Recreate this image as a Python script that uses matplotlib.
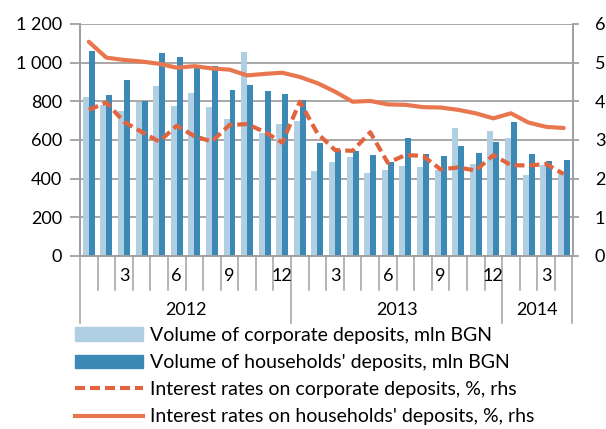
import matplotlib
matplotlib.use("Agg")
import matplotlib.pyplot as plt
from matplotlib.patches import Patch
from matplotlib.lines import Line2D
import numpy as np

plt.rcParams["font.family"] = ["Lato", "DejaVu Sans"]

# ---------- data (Jan 2012 - Apr 2014, monthly) ----------
years = ["2012", "2013", "2014"]
year_months = [12, 12, 4]
month_labels = ["", "", "3", "", "", "6", "", "", "9", "", "", "12",
                "", "", "3", "", "", "6", "", "", "9", "", "", "12",
                "", "", "3", ""]

corp_volume = [822, 781, 750, 798, 879, 776, 843, 772, 710, 1057, 634, 681,
               697, 438, 484, 514, 429, 443, 466, 460, 443, 660, 476, 645,
               610, 419, 471, 433]
hh_volume = [1062, 833, 912, 802, 1050, 1028, 988, 985, 859, 883, 852, 840,
             806, 586, 548, 545, 524, 486, 609, 526, 517, 571, 533, 591,
             691, 528, 490, 497]
corp_rate = [3.78, 3.97, 3.47, 3.21, 2.96, 3.37, 3.10, 2.96, 3.39, 3.41, 3.21, 2.93,
             3.99, 3.17, 2.74, 2.72, 3.20, 2.41, 2.61, 2.59, 2.24, 2.29, 2.21, 2.61,
             2.35, 2.34, 2.38, 2.12]
hh_rate = [5.54, 5.13, 5.07, 5.03, 4.97, 4.87, 4.91, 4.85, 4.82, 4.67, 4.71, 4.74,
           4.63, 4.47, 4.25, 3.99, 4.01, 3.92, 3.91, 3.85, 3.84, 3.78, 3.69, 3.56,
           3.69, 3.45, 3.34, 3.31]

legend_labels = ["Volume of corporate deposits, mln BGN",
                 "Volume of households' deposits, mln BGN",
                 "Interest rates on corporate deposits, %, rhs",
                 "Interest rates on households' deposits, %, rhs"]

# ---------- style ----------
light_blue = "#b0cfe2"
dark_blue = "#3d89b6"
rate_dash = "#e2643f"
rate_solid = "#e8774f"
grid_col = "#a0a0a0"
FS = 13
LEG_FS = 14

fig = plt.figure(figsize=(6.06, 4.29), dpi=100)
ax = fig.add_axes([80 / 606, 1 - 256 / 429, 492.5 / 606, 232 / 429])
ax2 = ax.twinx()

x = np.arange(len(corp_volume))
bw = 0.34
ax.bar(x - bw / 2, corp_volume, width=bw, color=light_blue, zorder=2)
ax.bar(x + bw / 2, hh_volume, width=bw, color=dark_blue, zorder=3)

ax.set_xlim(-0.5, len(x) - 0.5)
ax.set_ylim(0, 1200)
ax.set_yticks(range(0, 1201, 200))
ax.set_yticklabels([f"{v:,}".replace(",", " ") for v in range(0, 1201, 200)])
ax.yaxis.grid(True, color=grid_col, lw=1.3, zorder=0)
ax.set_axisbelow(True)
ax.set_xticks([])

ax2.plot(x, hh_rate, color=rate_solid, lw=3, solid_capstyle="round", zorder=5)
ax2.plot(x, corp_rate, color=rate_dash, lw=3, dashes=(2.4, 1.2), zorder=6)
ax2.set_ylim(0, 6)
ax2.set_yticks(range(0, 7))

for a in (ax, ax2):
    a.spines["top"].set_visible(False)
    for s in ("left", "right", "bottom"):
        a.spines[s].set_color(grid_col)
        a.spines[s].set_linewidth(1.3)
    a.tick_params(axis="y", labelsize=FS, color=grid_col, width=1.3, length=7,
                  pad=6, labelcolor="#000000")
ax2.tick_params(axis="y", length=4, pad=12)
ax.set_zorder(ax2.get_zorder() - 1)
ax2.patch.set_visible(False)
ax.patch.set_visible(False)

# ---------- multi-level category axis ----------
trans = ax.get_xaxis_transform()
month_depth = -34 / 232
year_depth = -67 / 232
bounds = np.cumsum([0] + year_months)
for b in range(len(x) + 1):
    depth = year_depth if b in bounds else month_depth
    ax.plot([b - 0.5, b - 0.5], [0, depth], transform=trans, color=grid_col,
            lw=1.1, clip_on=False)
for i, lab in enumerate(month_labels):
    if lab:
        ax.text(i, -20 / 232, lab, transform=trans, ha="center", va="center",
                fontsize=FS)
for j, yr in enumerate(years):
    mid = (bounds[j] + bounds[j + 1]) / 2 - 0.5
    ax.text(mid, -54 / 232, yr, transform=trans, ha="center", va="center",
            fontsize=FS)

# ---------- legend ----------
handles = [Patch(color=light_blue), Patch(color=dark_blue),
           Line2D([], [], color=rate_dash, lw=3, dashes=(2.4, 1.2)),
           Line2D([], [], color=rate_solid, lw=3)]
fig.legend(handles, legend_labels, loc="upper left",
           bbox_to_anchor=(75 / 606, 1 - 327 / 429), frameon=False,
           fontsize=LEG_FS, handlelength=3.5, handletextpad=0.37,
           labelspacing=0.52, borderpad=0, borderaxespad=0)

fig.savefig("out.png", dpi=100)
